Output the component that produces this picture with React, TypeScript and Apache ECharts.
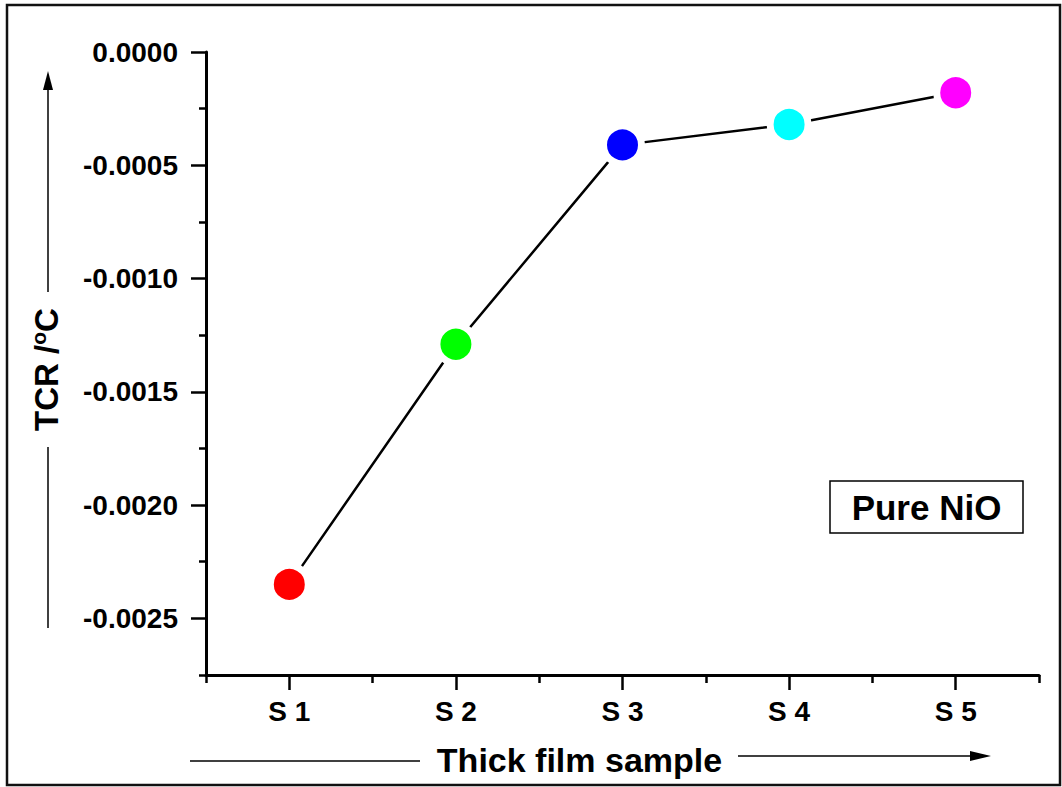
import React, { useEffect, useRef } from "react";
import * as echarts from "echarts";

const categories = ["S 1", "S 2", "S 3", "S 4", "S 5"];
const tcrValues = [-0.00235, -0.00129, -0.00041, -0.00032, -0.00018];
const pointColors = ["#ff0000", "#00ff00", "#0000ff", "#00ffff", "#ff00ff"];
const majorYTicks = [0, -0.0005, -0.001, -0.0015, -0.002, -0.0025];
const minorYTicks = [-0.00025, -0.00075, -0.00125, -0.00175, -0.00225, -0.00275];
const yMin = -0.00275;
const yMax = 0;

const FONT = "'Liberation Sans', Arial, sans-serif";

export default function App() {
  const ref = useRef<HTMLDivElement>(null);
  useEffect(() => {
    document.body.style.margin = "0";
    const chart = echarts.init(ref.current!, null, { renderer: "svg" });
    const axisColor = "#000";
    const option: any = {
      animation: false,
      backgroundColor: "#fff",
      grid: { left: 206, right: 23, top: 52, bottom: 112, containLabel: false, outerBoundsMode: "none" },
      xAxis: [
        {
          type: "category",
          data: categories,
          boundaryGap: true,
          position: "bottom",
          axisLine: { show: true, onZero: false, lineStyle: { color: axisColor, width: 3 } },
          axisTick: { show: true, alignWithLabel: true, length: 15, lineStyle: { color: axisColor, width: 2.5 } },
          axisLabel: { show: true, margin: 22, fontSize: 28, fontWeight: "bold", color: "#000", fontFamily: FONT },
          splitLine: { show: false },
          name: "Thick film sample",
          nameLocation: "middle",
          nameGap: 68,
          nameTextStyle: { fontSize: 34, fontWeight: "bold", color: "#000", fontFamily: FONT, padding: [0, 86, 0, 0] },
        },
        {
          type: "category",
          data: categories,
          boundaryGap: true,
          position: "bottom",
          offset: 0,
          axisLine: { show: false, onZero: false },
          axisTick: { show: true, alignWithLabel: false, length: 8, lineStyle: { color: axisColor, width: 2.5 } },
          axisLabel: { show: false },
          splitLine: { show: false },
        },
      ],
      yAxis: [
        {
          type: "value",
          min: yMin,
          max: yMax,
          position: "left",
          axisLine: { show: true, onZero: false, lineStyle: { color: axisColor, width: 3 } },
          axisTick: { show: true, length: 15, customValues: majorYTicks, lineStyle: { color: axisColor, width: 2.5 } },
          axisLabel: {
            show: true,
            customValues: majorYTicks,
            margin: 28,
            fontSize: 28,
            fontWeight: "bold",
            color: "#000",
            fontFamily: FONT,
            formatter: (v: number) => (Math.abs(v) < 1e-12 ? "0.0000" : v.toFixed(4)),
          },
          splitLine: { show: false },
          name: "{n|TCR /}{s|o}{n|C}",
          nameLocation: "middle",
          nameRotate: 90,
          nameGap: 142,
          nameTextStyle: {
            padding: [0, 12, 0, 0],
            rich: {
              n: { fontSize: 33, fontWeight: "bold", color: "#000", fontFamily: FONT, lineHeight: 36 },
              s: { fontSize: 21, fontWeight: "bold", color: "#000", fontFamily: FONT, verticalAlign: "top", lineHeight: 22 },
            },
          },
        },
        {
          type: "value",
          min: yMin,
          max: yMax,
          position: "left",
          offset: 0,
          axisLine: { show: false, onZero: false },
          axisTick: { show: true, length: 7, customValues: minorYTicks, lineStyle: { color: axisColor, width: 2.5 } },
          axisLabel: { show: false },
          splitLine: { show: false },
        },
      ],
      series: [
        {
          type: "line",
          xAxisIndex: 0,
          yAxisIndex: 0,
          data: tcrValues.map((v, i) => ({ value: v, itemStyle: { color: pointColors[i] } })),
          symbol: "circle",
          symbolSize: 38,
          lineStyle: { color: "#000", width: 2.5 },
          itemStyle: { borderColor: "#fff", borderWidth: 7 },
          z: 3,
        },
      ],
      graphic: [
        {
          type: "rect",
          shape: { x: 7, y: 5, width: 1053, height: 780 },
          style: { fill: "none", stroke: "#111", lineWidth: 2.5 },
          silent: true,
          z: 0,
        },
        {
          type: "line",
          shape: { x1: 48, y1: 86, x2: 48, y2: 292 },
          style: { stroke: "#000", lineWidth: 1.5 },
        },
        {
          type: "polygon",
          shape: { points: [[48, 71], [43, 90], [53, 90]] },
          style: { fill: "#000" },
        },
        {
          type: "line",
          shape: { x1: 48, y1: 447, x2: 48, y2: 628 },
          style: { stroke: "#000", lineWidth: 1.5 },
        },
        {
          type: "line",
          shape: { x1: 190, y1: 761, x2: 420, y2: 761 },
          style: { stroke: "#000", lineWidth: 1.5 },
        },
        {
          type: "line",
          shape: { x1: 738, y1: 756, x2: 974, y2: 756 },
          style: { stroke: "#000", lineWidth: 1.5 },
        },
        {
          type: "polygon",
          shape: { points: [[991, 756], [970, 751], [970, 761]] },
          style: { fill: "#000" },
        },
        {
          type: "rect",
          shape: { x: 830, y: 481, width: 193, height: 52 },
          style: { fill: "#fff", stroke: "#000", lineWidth: 1.5 },
        },
        {
          type: "text",
          x: 926.5,
          y: 507,
          style: {
            text: "Pure NiO",
            fontSize: 35,
            fontWeight: "bold",
            fontFamily: FONT,
            fill: "#000",
            align: "center",
            verticalAlign: "middle",
          },
        },
      ],
    };
    chart.setOption(option);
    return () => chart.dispose();
  }, []);
  return <div ref={ref} style={{ width: 1062, height: 787 }} />;
}
